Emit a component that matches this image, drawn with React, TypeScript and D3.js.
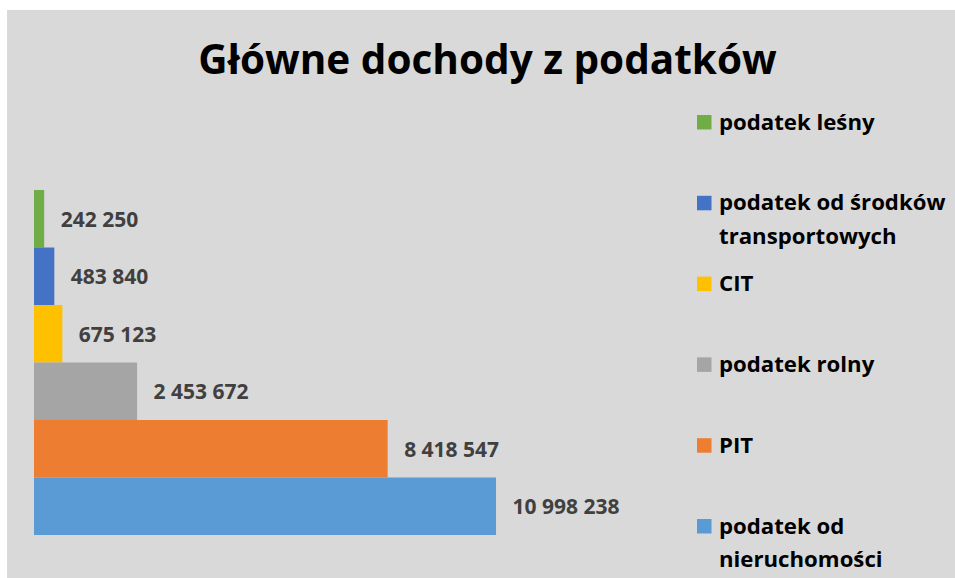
import React from "react";
import * as d3 from "d3";

const categories = [
  "podatek leśny",
  "podatek od środków transportowych",
  "CIT",
  "podatek rolny",
  "PIT",
  "podatek od nieruchomości",
];
const values = [242250, 483840, 675123, 2453672, 8418547, 10998238];
const valueLabels = ["242 250", "483 840", "675 123", "2 453 672", "8 418 547", "10 998 238"];
const legendLines = [
  ["podatek leśny"],
  ["podatek od środków", "transportowych"],
  ["CIT"],
  ["podatek rolny"],
  ["PIT"],
  ["podatek od", "nieruchomości"],
];
const colors = ["#70ad47", "#4472c4", "#ffc000", "#a5a5a5", "#ed7d31", "#5b9bd5"];
const title = "Główne dochody z podatków";

const W = 955;
const H = 578;
const FONT = "'Open Sans', 'Noto Sans', sans-serif";

export default function App() {
  const x = d3.scaleLinear().domain([0, 12000000]).range([34, 538.1]);
  const y = d3.scaleBand<string>().domain(categories).range([190, 535]).padding(0);
  const legendY = d3.scalePoint<string>().domain(categories).range([129.5, 533.5]);

  return (
    <div style={{ position: "fixed", left: 0, top: 0 }}>
      <svg width={W} height={H} style={{ display: "block" }}>
        <rect x={0} y={0} width={W} height={H} fill="#ffffff" />
        <rect x={7} y={10} width={W - 7} height={H - 10} fill="#d9d9d9" />
        <text
          x={487.5}
          y={74}
          textAnchor="middle"
          fontFamily={FONT}
          fontWeight={700}
          fontSize={40.5}
          fill="#000000"
        >
          {title}
        </text>
        {categories.map((c, i) => (
          <g key={c}>
            <rect
              x={x(0)}
              y={y(c)!}
              width={x(values[i]) - x(0)}
              height={y.bandwidth()}
              fill={colors[i]}
            />
            <text
              x={x(values[i]) + 16.5}
              y={y(c)! + y.bandwidth() / 2 + 8}
              fontFamily={FONT}
              fontWeight={700}
              fontSize={21}
              fill="#404040"
            >
              {valueLabels[i]}
            </text>
          </g>
        ))}
        {categories.map((c, i) => {
          const by = legendY(c)!;
          return (
            <g key={"lg" + c}>
              <rect x={697} y={by - 14.5} width={14.5} height={14.5} fill={colors[i]} />
              {legendLines[i].map((line, j) => (
                <text
                  key={j}
                  x={719}
                  y={by + j * 33.5}
                  fontFamily={FONT}
                  fontWeight={700}
                  fontSize={22.2}
                  fill="#000000"
                >
                  {line}
                </text>
              ))}
            </g>
          );
        })}
      </svg>
    </div>
  );
}
